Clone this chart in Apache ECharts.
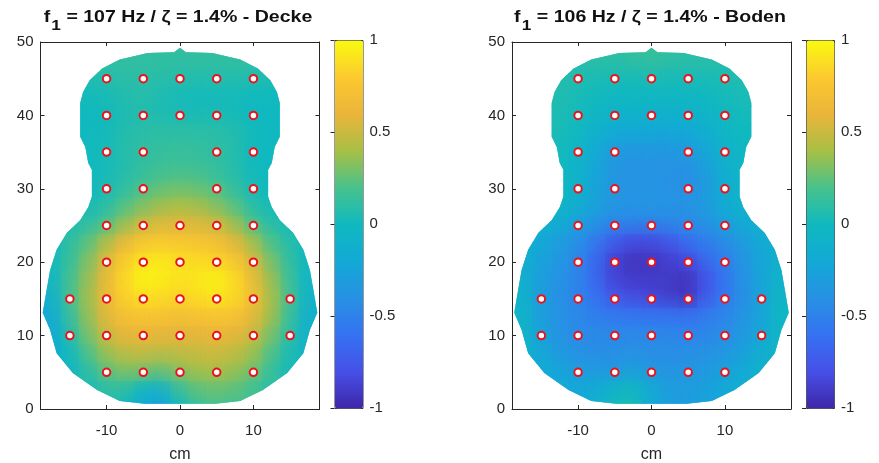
<!DOCTYPE html>
<html><head><meta charset="utf-8">
<script src="https://cdn.jsdelivr.net/npm/echarts@6/dist/echarts.min.js"></script>
<style>html,body{margin:0;padding:0;background:#fff}#c{width:879px;height:463px}</style>
</head><body><div id="c"></div>
<script>
// ---- data (cm, normalised deflection) ----
const FIELD_X = [-17.5,-15,-12.5,-10,-7.5,-5,-2.5,0,2.5,5,7.5,10,12.5,15,17.5];
const FIELD_Y = [50,47.5,45,42.5,40,37.5,35,32.5,30,27.5,25,22.5,20,17.5,15,12.5,10,7.5,5,2.5,0];
const N = null;
const DECKE = [
 [N,N,N,N,N,N,0.12,0.12,0.12,N,N,N,N,N,N],
 [N,N,0.1,0.12,0.12,0.12,0.12,0.12,0.12,0.12,0.12,0.12,0.1,N,N],
 [N,N,0.06,0.08,0.1,0.1,0.09,0.08,0.08,0.08,0.08,0.07,0.06,N,N],
 [N,N,0.02,0.03,0.07,0.08,0.06,0.03,0.02,0.02,0.02,0.01,0.0,N,N],
 [N,N,0.0,0.01,0.05,0.07,0.05,0.03,0.03,0.03,0.02,0.0,-0.01,N,N],
 [N,N,0.0,0.01,0.07,0.09,0.1,0.1,0.1,0.09,0.07,0.01,-0.01,N,N],
 [N,N,0.01,0.02,0.08,0.11,0.13,0.14,0.13,0.11,0.08,0.01,-0.01,N,N],
 [N,N,0.0,0.02,0.07,0.12,0.16,0.17,0.16,0.13,0.08,0.01,-0.01,N,N],
 [N,N,0.01,0.03,0.1,0.18,0.24,0.26,0.25,0.2,0.12,0.03,0.0,N,N],
 [N,N,0.03,0.08,0.2,0.3,0.37,0.4,0.38,0.32,0.22,0.08,0.02,N,N],
 [N,0.05,0.1,0.18,0.35,0.48,0.55,0.56,0.55,0.5,0.38,0.2,0.08,0.03,N],
 [0.0,0.1,0.22,0.4,0.6,0.75,0.78,0.76,0.74,0.7,0.58,0.4,0.2,0.08,0.0],
 [0.0,0.12,0.3,0.55,0.78,0.9,0.92,0.88,0.86,0.84,0.75,0.55,0.3,0.12,-0.02],
 [-0.05,0.15,0.35,0.6,0.85,0.97,0.95,0.9,0.92,0.96,0.88,0.65,0.38,0.15,-0.05],
 [-0.12,0.15,0.38,0.62,0.82,0.9,0.88,0.84,0.88,0.92,0.87,0.7,0.42,0.18,-0.08],
 [-0.2,0.1,0.35,0.58,0.72,0.76,0.75,0.72,0.74,0.76,0.75,0.62,0.4,0.15,-0.12],
 [-0.22,0.05,0.3,0.5,0.6,0.62,0.6,0.58,0.6,0.62,0.6,0.52,0.32,0.1,-0.1],
 [-0.2,0.0,0.2,0.38,0.48,0.5,0.48,0.48,0.5,0.52,0.48,0.4,0.22,0.05,-0.08],
 [N,-0.08,0.1,0.25,0.33,0.32,0.28,0.35,0.4,0.42,0.38,0.3,0.15,0.02,N],
 [N,N,0.02,0.1,0.12,0.0,-0.1,0.15,0.25,0.28,0.25,0.18,0.08,N,N],
 [N,N,N,N,0.0,-0.2,-0.3,0.0,0.15,0.2,0.15,N,N,N,N]
];
const BODEN = [
 [N,N,N,N,N,N,0.12,0.14,0.12,N,N,N,N,N,N],
 [N,N,0.08,0.08,0.1,0.1,0.12,0.14,0.12,0.1,0.1,0.08,0.07,N,N],
 [N,N,0.07,0.06,0.05,0.04,0.04,0.05,0.04,0.04,0.04,0.05,0.06,N,N],
 [N,N,0.06,0.04,0.01,-0.01,-0.02,-0.02,-0.02,-0.02,-0.01,0.02,0.04,N,N],
 [N,N,0.05,0.02,-0.04,-0.08,-0.09,-0.09,-0.1,-0.09,-0.06,-0.01,0.02,N,N],
 [N,N,0.04,0.0,-0.1,-0.18,-0.2,-0.2,-0.21,-0.2,-0.14,-0.05,0.0,N,N],
 [N,N,0.02,-0.04,-0.18,-0.3,-0.34,-0.34,-0.34,-0.32,-0.22,-0.1,-0.03,N,N],
 [N,N,0.0,-0.07,-0.22,-0.36,-0.38,-0.38,-0.39,-0.4,-0.3,-0.14,-0.05,N,N],
 [N,N,-0.02,-0.09,-0.24,-0.36,-0.38,-0.37,-0.38,-0.42,-0.33,-0.16,-0.06,N,N],
 [N,N,-0.05,-0.12,-0.26,-0.36,-0.37,-0.36,-0.37,-0.38,-0.32,-0.18,-0.08,N,N],
 [N,-0.1,-0.15,-0.25,-0.38,-0.46,-0.48,-0.48,-0.46,-0.44,-0.38,-0.28,-0.18,-0.12,N],
 [-0.1,-0.2,-0.3,-0.4,-0.55,-0.72,-0.82,-0.82,-0.76,-0.62,-0.52,-0.44,-0.32,-0.2,-0.1],
 [-0.12,-0.25,-0.35,-0.45,-0.65,-0.86,-0.93,-0.93,-0.88,-0.82,-0.66,-0.52,-0.38,-0.24,-0.1],
 [-0.1,-0.28,-0.38,-0.48,-0.65,-0.86,-0.9,-0.9,-0.9,-0.94,-0.78,-0.6,-0.4,-0.25,-0.08],
 [-0.08,-0.3,-0.4,-0.48,-0.6,-0.76,-0.82,-0.85,-0.88,-0.94,-0.75,-0.58,-0.42,-0.26,-0.05],
 [-0.05,-0.28,-0.38,-0.45,-0.52,-0.56,-0.58,-0.6,-0.6,-0.62,-0.55,-0.48,-0.38,-0.25,-0.03],
 [-0.05,-0.26,-0.38,-0.44,-0.46,-0.46,-0.46,-0.46,-0.48,-0.5,-0.48,-0.44,-0.35,-0.24,-0.05],
 [-0.08,-0.22,-0.33,-0.4,-0.42,-0.42,-0.4,-0.42,-0.42,-0.42,-0.4,-0.36,-0.28,-0.16,-0.05],
 [N,-0.15,-0.25,-0.3,-0.34,-0.34,-0.3,-0.36,-0.38,-0.36,-0.34,-0.28,-0.2,-0.1,N],
 [N,N,-0.18,-0.22,-0.2,-0.1,-0.02,-0.18,-0.3,-0.32,-0.28,-0.2,-0.12,N,N],
 [N,N,N,N,-0.1,0.02,0.05,-0.2,-0.3,-0.32,-0.25,N,N,N,N]
];
// measurement points (cm)
const POINT_X = [-10,-5,0,5,10, -10,-5,0,5,10, -10,-5,5,10, -10,-5,5,10, -10,-5,0,5,10, -10,-5,0,5,10, -15,-10,-5,0,5,10,15, -15,-10,-5,0,5,10,15, -10,-5,0,5,10];
const POINT_Y = [45,45,45,45,45, 40,40,40,40,40, 35,35,35,35, 30,30,30,30, 25,25,25,25,25, 20,20,20,20,20, 15,15,15,15,15,15,15, 10,10,10,10,10,10,10, 5,5,5,5,5];
// instrument body outline (cm)
const OUTLINE_X = [0,0.8,4.4,8.2,10.6,12.3,13.2,13.6,13.6,12.9,12.5,12.0,12.0,12.5,13.6,15.4,16.8,17.7,18.4,18.7,17.7,16.8,14.6,11.3,8.2,4.8,
 -4.8,-8.2,-11.3,-14.6,-16.8,-17.7,-18.7,-18.4,-17.7,-16.8,-15.4,-13.6,-12.5,-12.0,-12.0,-12.5,-12.9,-13.6,-13.6,-13.2,-12.3,-10.6,-8.2,-4.4,-0.8];
const OUTLINE_Y = [49.2,48.6,48.5,47.6,46.4,44.8,43.2,41.7,37.1,35.7,33.5,32.6,28.9,27.5,25.7,24.0,21.7,18.9,14.9,13.1,10.8,7.6,4.9,2.6,1.1,0.7,
 0.7,1.1,2.6,4.9,7.6,10.8,13.1,14.9,18.9,21.7,24.0,25.7,27.5,28.9,32.6,33.5,35.7,37.1,41.7,43.2,44.8,46.4,47.6,48.5,48.6];
const X_TICKS = [-10,0,10];
const CBAR_TICKS = [-1,-0.5,0,0.5,1];
const FREQ = ['107','106'];
const DAMP = ['1.4%','1.4%'];
const PART = ['Decke','Boden'];

// ---- styling ----
const FONT = '"Liberation Sans", Arial, Helvetica, sans-serif';
const AX = '#262626';
const PARULA = ['#3e26a8','#4650e8','#3572f2','#2791e4','#12a9d6','#0fb9bf','#48c28c','#a8bf45','#eab53a','#fcc92f','#f9fb0e'];
const CELL = 2.5;
const GRID_LEFT = [40.5, 512];
const CBAR_LEFT = [334.5, 806];
const TITLE_X = [178, 650];
const LABEL_SIZE = 15;

function cells(field){
  const out = [];
  field.forEach((row, r) => row.forEach((v, c) => { if (v !== null) out.push([FIELD_X[c], FIELD_Y[r], v]); }));
  return out;
}
function outlinePts(api){ return OUTLINE_X.map((ox, i) => api.coord([ox, OUTLINE_Y[i]])); }
function renderCell(params, api){
  const x = api.value(0), y = api.value(1);
  const p0 = api.coord([x - CELL/2, y + CELL/2]);
  const p1 = api.coord([x + CELL/2, y - CELL/2]);
  return {
    type: 'rect',
    shape: {x: p0[0] - 0.4, y: p0[1] - 0.4, width: p1[0] - p0[0] + 0.8, height: p1[1] - p0[1] + 0.8},
    style: {fill: api.visual('color')},
    clipPath: {type: 'polygon', shape: {points: outlinePts(api)}}
  };
}
// soft halo around each cell: blends neighbouring cells (rendering only)
function renderHalo(params, api){
  const x = api.value(0), y = api.value(1);
  const p0 = api.coord([x - 1.5 * CELL, y + 1.5 * CELL]);
  const p1 = api.coord([x + 1.5 * CELL, y - 1.5 * CELL]);
  const c = api.visual('color');
  return {
    type: 'rect',
    shape: {x: p0[0], y: p0[1], width: p1[0] - p0[0], height: p1[1] - p0[1]},
    style: {fill: {type: 'radial', x: 0.5, y: 0.5, r: 0.5, colorStops: [
      {offset: 0, color: echarts.color.modifyAlpha(c, 0.5)},
      {offset: 0.35, color: echarts.color.modifyAlpha(c, 0.35)},
      {offset: 1, color: echarts.color.modifyAlpha(c, 0)}]}},
    clipPath: {type: 'polygon', shape: {points: outlinePts(api)}}
  };
}

const grids = [], xAxes = [], yAxes = [], series = [], visualMaps = [], graphics = [];
[DECKE, BODEN].forEach((field, i) => {
  grids.push({left: GRID_LEFT[i], top: 42, width: 279, height: 367, containLabel: false, outerBoundsMode: 'none'});
  const lineStyle = {color: AX, width: 1};
  const tick = {inside: true, length: 4, lineStyle: {color: AX}, customValues: X_TICKS};
  xAxes.push({gridIndex: i, type: 'value', min: -19, max: 19, position: 'bottom',
    axisLine: {onZero: false, lineStyle}, axisTick: tick, splitLine: {show: false},
    axisLabel: {customValues: X_TICKS, color: AX, fontSize: LABEL_SIZE, fontFamily: FONT, margin: 14},
    name: 'cm', nameLocation: 'middle', nameGap: 38, nameTextStyle: {color: AX, fontSize: 16, fontFamily: FONT}});
  xAxes.push({gridIndex: i, type: 'value', min: -19, max: 19, position: 'top',
    axisLine: {onZero: false, lineStyle}, axisTick: tick, splitLine: {show: false}, axisLabel: {show: false}});
  yAxes.push({gridIndex: i, type: 'value', min: 0, max: 50, interval: 10, position: 'left',
    axisLine: {show: true, onZero: false, lineStyle}, axisTick: {show: true, inside: true, length: 4, lineStyle: {color: AX}},
    splitLine: {show: false}, axisLabel: {color: AX, fontSize: LABEL_SIZE, fontFamily: FONT, margin: 7}});
  yAxes.push({gridIndex: i, type: 'value', min: 0, max: 50, interval: 10, position: 'right',
    axisLine: {show: true, onZero: false, lineStyle}, axisTick: {show: true, inside: true, length: 4, lineStyle: {color: AX}},
    splitLine: {show: false}, axisLabel: {show: false}});
  visualMaps.push({type: 'continuous', min: -1, max: 1, seriesIndex: [i, i + 2], dimension: 2,
    inRange: {color: PARULA}, calculable: false, realtime: false, orient: 'vertical',
    itemWidth: 28, itemHeight: 368, left: CBAR_LEFT[i], top: 40, padding: 0,
    borderColor: '#333', borderWidth: 1, text: null, showLabel: false});
  graphics.push({type: 'text', x: TITLE_X[i], y: 9, scaleX: 1.15, originX: 0, style: {
    text: '{f|f}{s|1}{t| = ' + FREQ[i] + ' Hz / ζ = ' + DAMP[i] + ' - ' + PART[i] + '}',
    align: 'center', verticalAlign: 'top',
    rich: {
      f: {fontFamily: FONT, fontWeight: 'bold', fontSize: 17, fill: '#111', lineHeight: 20, verticalAlign: 'top'},
      s: {fontFamily: FONT, fontWeight: 'bold', fontSize: 15, fill: '#111', lineHeight: 20, verticalAlign: 'top', padding: [9, 0, 0, 1]},
      t: {fontFamily: FONT, fontWeight: 'bold', fontSize: 17, fill: '#111', lineHeight: 20, verticalAlign: 'top'}
    }}});
});
[DECKE, BODEN].forEach((field, i) => {
  series.push({type: 'custom', name: PART[i], xAxisIndex: 2*i, yAxisIndex: 2*i, clip: true,
    data: cells(field), encode: {x: 0, y: 1}, renderItem: renderCell, silent: true, z: 1});
});
[DECKE, BODEN].forEach((field, i) => {
  series.push({type: 'custom', name: PART[i] + ' blend', xAxisIndex: 2*i, yAxisIndex: 2*i, clip: true,
    data: cells(field), encode: {x: 0, y: 1}, renderItem: renderHalo, silent: true, z: 2});
});
// colour bar axes
[0, 1].forEach(i => {
  grids.push({left: CBAR_LEFT[i], top: 40, width: 28, height: 368, show: false, outerBoundsMode: 'none'});
  xAxes.push({gridIndex: 2 + i, type: 'value', min: 0, max: 1, show: false});
  yAxes.push({gridIndex: 2 + i, type: 'value', min: -1, max: 1, interval: 0.5, position: 'right', z: 10,
    axisLine: {show: false}, axisTick: {show: true, inside: true, length: 4, lineStyle: {color: AX}, customValues: CBAR_TICKS},
    splitLine: {show: false}, axisLabel: {customValues: CBAR_TICKS, color: AX, fontSize: LABEL_SIZE, fontFamily: FONT, margin: 7}});
});
[0, 1].forEach(i => {
  series.push({type: 'scatter', xAxisIndex: 2*i, yAxisIndex: 2*i, z: 5, silent: true,
    data: POINT_X.map((x, k) => [x, POINT_Y[k]]), symbol: 'circle', symbolSize: 7.5,
    itemStyle: {color: '#ffffff', borderColor: '#e8141c', borderWidth: 2, opacity: 1}});
});

const chart = echarts.init(document.getElementById('c'), null, {renderer: 'canvas'});
chart.setOption({
  animation: false,
  textStyle: {fontFamily: FONT},
  grid: grids, xAxis: xAxes, yAxis: yAxes, visualMap: visualMaps, series: series, graphic: graphics
});
</script></body></html>
